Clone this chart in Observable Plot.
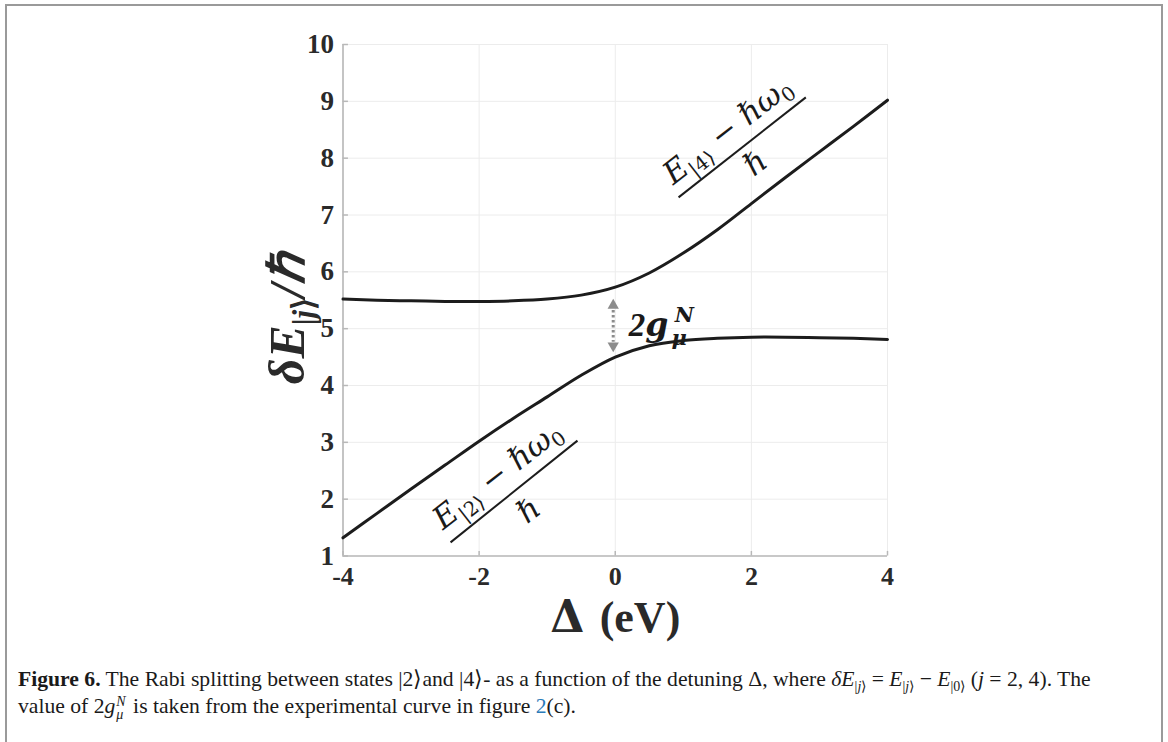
<!DOCTYPE html>
<html><head><meta charset="utf-8">
<script src="https://cdn.jsdelivr.net/npm/d3@7"></script>
<script src="https://cdn.jsdelivr.net/npm/@observablehq/plot@0.6"></script>
<style>
body{margin:0;background:#fff;}
#page{position:relative;width:1168px;height:742px;overflow:hidden;background:#fff;}
#frame{position:absolute;left:5px;top:4px;width:1158px;height:780px;border:2px solid #9a9a9a;box-sizing:border-box;}
#chart{position:absolute;left:0;top:0;}
#caption{position:absolute;left:18px;top:666px;width:1140px;font-family:"Liberation Serif",serif;font-size:21.65px;line-height:27px;color:#1a1a1a;white-space:nowrap;}
#caption sub{font-size:14px;line-height:0;}
.stack{display:inline-flex;flex-direction:column;vertical-align:middle;font-size:14px;line-height:13px;margin-left:1px;margin-right:2px;}
</style></head>
<body><div id="page"><div id="frame"></div><div id="chart"></div><div id="caption"></div></div>
<script>
// ---- data ----
const detuning = [-4,-3.5,-3,-2.5,-2,-1.5,-1,-0.5,0,0.5,1,1.5,2,2.5,3,3.5,4];
const upperBranch = [5.52,5.50,5.49,5.48,5.48,5.49,5.52,5.59,5.73,5.98,6.33,6.74,7.20,7.66,8.11,8.56,9.02];
const lowerBranch = [1.32,1.75,2.18,2.60,3.02,3.42,3.80,4.18,4.50,4.70,4.79,4.83,4.85,4.85,4.84,4.83,4.81];
const xTicks = [-4,-2,0,2,4];
const yTicks = [1,2,3,4,5,6,7,8,9,10];
const xLabel = "Δ (eV)";
const yLabel = "δE|j⟩/ℏ";
// splitting arrow (data units)
const gapX = -0.03;
const gapLine = [5.32, 4.76];
const gapHeads = [5.41, 4.70];
const gapLabel = {x: 0.2, y: 5.05, text: "2gμN"};
// fraction annotations (data units)
const fracText = [
  {key: "num4", x: 1.65, y: 8.49, text: "E|4⟩ − ℏω0"},
  {key: "den4", x: 2.06, y: 7.91, text: "ℏ"},
  {key: "num2", x: -1.73, y: 2.42, text: "E|2⟩ − ℏω0"},
  {key: "den2", x: -1.27, y: 1.80, text: "ℏ"}
];
const fracBars = [
  {x1: 0.93, y1: 7.31, x2: 2.80, y2: 9.07},
  {x1: -2.42, y1: 1.24, x2: -0.555, y2: 3.03}
];

const rows = detuning.map((d, i) => ({d, up: upperBranch[i], lo: lowerBranch[i]}));
const axisGray = "#b8b8b8";
const gridGray = "#ececec";

const plot = Plot.plot({
  width: 1168, height: 650,
  marginLeft: 342.5, marginRight: 281, marginTop: 44, marginBottom: 94.5,
  x: {domain: [-4, 4]},
  y: {domain: [1, 10]},
  style: {fontFamily: "Liberation Serif, serif", background: "transparent", color: "#2a2a2a"},
  marks: [
    Plot.ruleX(xTicks, {stroke: gridGray, strokeWidth: 1}),
    Plot.ruleY(yTicks, {stroke: gridGray, strokeWidth: 1}),
    Plot.ruleX(xTicks, {y1: 1, y2: 1.08, stroke: axisGray, strokeWidth: 1.5}),
    Plot.ruleY(yTicks, {x1: -4, x2: -3.92, stroke: axisGray, strokeWidth: 1.5}),
    Plot.ruleX([-4], {stroke: axisGray, strokeWidth: 1.6}),
    Plot.ruleY([1], {stroke: axisGray, strokeWidth: 1.6}),
    Plot.axisX({ticks: xTicks, tickSize: 0, tickPadding: 11, tickFormat: d => String(d), fontSize: 26, fontWeight: "bold", label: null}),
    Plot.axisY({ticks: yTicks, tickSize: 0, tickPadding: 9, tickFormat: d => String(d), fontSize: 27, fontWeight: "bold", label: null}),
    Plot.line(rows, {x: "d", y: "up", curve: "catmull-rom", stroke: "#1c1c1c", strokeWidth: 3}),
    Plot.line(rows, {x: "d", y: "lo", curve: "catmull-rom", stroke: "#1c1c1c", strokeWidth: 3}),
    Plot.ruleX([gapX], {y1: gapLine[0], y2: gapLine[1], stroke: "#8c8c8c", strokeWidth: 3, strokeDasharray: "2.5,2.5"}),
    Plot.dot([gapHeads[0]], {x: gapX, y: d => d, symbol: "triangle", r: 4.2, fill: "#8c8c8c", stroke: "none"}),
    Plot.dot([gapHeads[1]], {x: gapX, y: d => d, symbol: "triangle", rotate: 180, r: 4.2, fill: "#8c8c8c", stroke: "none"}),
    Plot.text([gapLabel], {x: "x", y: "y", text: "text", textAnchor: "start", fontSize: 33, fontWeight: "bold", fontStyle: "italic", fill: "#1a1a1a"}),
    Plot.link(fracBars, {x1: "x1", y1: "y1", x2: "x2", y2: "y2", stroke: "#1c1c1c", strokeWidth: 2}),
    ...fracText.map(t => Plot.text([t], {x: "x", y: "y", text: "text", rotate: -38, fontSize: 31, fontFamily: "DejaVu Serif, serif", fill: "#1a1a1a"})),
    Plot.text([xLabel], {frameAnchor: "bottom", dy: 76, fontSize: 44, fontWeight: "bold", fill: "#2a2a2a"}),
    Plot.text([yLabel], {frameAnchor: "left", textAnchor: "middle", rotate: -90, fontSize: 50, fontWeight: "bold", fontStyle: "italic", fill: "#2a2a2a"})
  ]
});
document.getElementById("chart").appendChild(plot);

const svg = d3.select(plot);
const byText = s => svg.selectAll("text").filter(function () { return this.textContent === s; });
const sub = (s, fs, dy) => `<tspan font-size="${fs}" dy="${dy}" font-style="normal">${s}</tspan>`;
fracText.forEach(t => {
  const sel = byText(t.text);
  if (t.text === "ℏ") sel.html(`<tspan font-style="italic">ℏ</tspan>`);
  else {
    const n = t.key === "num4" ? "4" : "2";
    sel.html(`<tspan font-style="italic">E</tspan>${sub("|" + n + "⟩", 20, 7)}<tspan dy="-7"> − </tspan><tspan font-style="italic">ℏω</tspan>${sub("0", 20, 6)}`);
  }
});
byText(gapLabel.text).html(
  `2<tspan font-family="DejaVu Serif">g</tspan><tspan font-size="21" dx="3" dy="9" font-family="DejaVu Serif">μ</tspan><tspan font-size="21" dx="-12" dy="-23" font-family="DejaVu Serif">N</tspan>`);
byText(yLabel)
  .attr("text-anchor", "middle")
  .attr("transform", "translate(287,318) rotate(-90)")
  .html(`δE<tspan font-size="31" dy="10" font-style="normal">|</tspan><tspan font-size="31">j</tspan><tspan font-size="31" font-style="normal">⟩</tspan><tspan dy="-10">/ℏ</tspan>`);
byText(xLabel).attr("font-family", "DejaVu Serif, serif").html(`Δ <tspan font-family="Liberation Serif">(eV)</tspan>`);

document.getElementById("caption").innerHTML =
  `<b>Figure 6.</b> The Rabi splitting between states |2⟩and |4⟩- as a function of the detuning Δ, where <i>δE</i><sub>|<i>j</i>⟩</sub> = <i>E</i><sub>|<i>j</i>⟩</sub> − <i>E</i><sub>|0⟩</sub> (<i>j</i> = 2, 4). The<br>` +
  `value of 2<i>g</i><span class="stack"><i>N</i><i>μ</i></span> is taken from the experimental curve in figure <span style="color:#2b7bb9">2</span>(c).`;
</script>
</body></html>
